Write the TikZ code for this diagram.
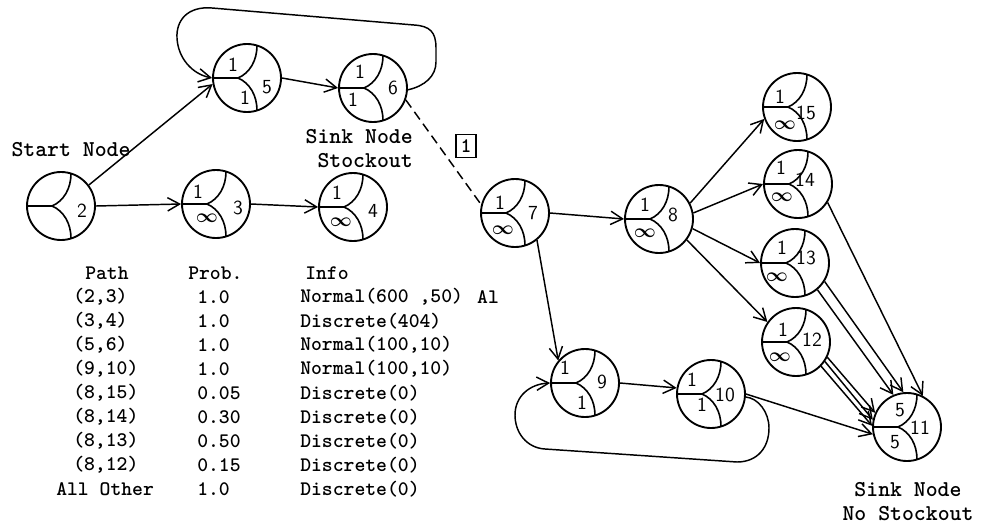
\documentclass[tikz,border=0pt]{standalone}
\usepackage{bm}
\usetikzlibrary{arrows.meta}
\tikzset{
 pn/.style={circle, draw, line width=1.4pt, minimum size=51pt, inner sep=0pt},
 inarc/.style={line width=1.2pt},
 lab/.style={font=\fontsize{15}{15}\selectfont\sffamily, inner sep=0pt},
 tt/.style={font=\fontsize{15.5}{16}\selectfont\ttfamily\bfseries, inner sep=0pt, anchor=west},
 bigtxt/.style={font=\fontsize{17}{18}\selectfont\ttfamily\bfseries, inner sep=0pt},
 conn/.style={line width=1.1pt},
 arr/.style={conn, -{Straight Barb[length=9pt,width=10pt]}},
}
\newcommand{\myinf}{$\bm{\infty}$}
\newcommand{\pnode}[8]{%
  \node[pn] (#1) at (#2) {};
  \begin{scope}[shift={(#1.center)}]
    \draw[inarc] (-34,0) -- (-9,0) .. controls (3,-5) and (10,-18) .. (10,-32.3);
    \draw[inarc] (-9,0) .. controls (3,5) and (10,18) .. (10,32.3);
    \node[lab] (#1u) at (#4) {#3};
    \node[lab] (#1l) at (#6) {#5};
    \node[lab] (#1n) at (#8) {#7};
  \end{scope}}
\begin{document}
\begin{tikzpicture}[x=0.75pt,y=-0.75pt]
\fill[white] (0,0) rectangle (989,525);
\useasboundingbox (0,0) rectangle (989,525);
% nodes
\pnode{n2}{61,206}{}{-15,-12}{}{-12,17}{2}{21,5}
\pnode{n3}{216,204}{1}{-18,-12}{\myinf}{-9,14}{3}{22,4}
\pnode{n4}{353,207}{1}{-16,-14}{\myinf}{-12,15}{4}{20,4}
\pnode{n5}{247,78}{1}{-14,-13}{1}{-2,20}{5}{20,9}
\pnode{n6}{373,88}{1}{-13,-16}{1}{-20,12}{6}{20,0}
\pnode{n7}{515,213}{1}{-15,-10}{\myinf}{-12,17}{7}{18,0}
\pnode{n8}{659,219}{1}{-14,-14}{\myinf}{-14,14}{8}{14,-4}
\pnode{n15}{797,107}{1}{-17,-10}{\myinf}{-12,18}{15}{9,6}
\pnode{n14}{798,184}{1}{-17,-16}{\myinf}{-16,13}{14}{7,-4}
\pnode{n13}{795,263}{1}{-13,-15}{\myinf}{-18,14}{13}{11,-5}
\pnode{n12}{796,342}{1}{-13,-12}{\myinf}{-16,15}{12}{16,-2}
\pnode{n11}{907,427}{5}{-7,-17}{5}{-12,15}{11}{13,1}
\pnode{n9}{585,383}{1}{-20,-15}{1}{-3,20}{9}{17,-1}
\pnode{n10}{711,394}{1}{-19,-14}{1}{-9,11}{10}{14,1}
% connectors
\draw[arr] (n2.37) -- (n5.190);
\draw[arr] (n2.east) -- (n3.west);
\draw[arr] (n3.east) -- (n4.west);
\draw[arr] (n5.east) -- (n6.west);
\draw[conn, dash pattern=on 7pt off 4pt] (n6.-20) -- (n7.166);
\draw[arr] (n7.east) -- (n8.west);
\draw[arr] (n7.-51) -- (n9.140);
\draw[arr] (n9.east) -- (n10.170);
\draw[arr] (n10.east) -- (n11.192);
\draw[arr] (n8.27) -- (n15.200);
\draw[arr] (n8.10) -- (n14.west);
\draw[arr] (n8.-16) -- (n13.west);
\draw[arr] (n8.-37) -- (n12.145);
\draw[arr] (n14.-32) -- (n11.63);
\draw[arr] (n13.-50) -- (n11.113);
\draw[arr] (n13.-32) -- (n11.96);
\draw[arr] (n12.-44) -- (n11.178);
\draw[arr] (n12.-34) -- (n11.168);
\draw[arr] (n12.-26) -- (n11.156);
% loops
\draw[arr] (n6.-3) .. controls (425,86) and (436,76) .. (436,62) -- (436,48)
  .. controls (436,32) and (430,26) .. (414,25) -- (212,8)
  .. controls (188,6) and (176,20) .. (177,38)
  .. controls (178,58) and (192,74) .. (n5.west);
\draw[arr] (n10.-5) .. controls (758,398) and (769,412) .. (769,428)
  .. controls (769,448) and (757,462) .. (737,462) -- (545,449)
  .. controls (527,448) and (515,433) .. (515,415)
  .. controls (515,396) and (530,384) .. (n9.west);
% box label
\node[draw, line width=1pt, font=\fontsize{15.5}{16}\selectfont\ttfamily\bfseries, inner sep=1.5pt, minimum width=15pt, minimum height=17pt] (box1) at (466,146) {1};
% texts
\node[bigtxt] (start) at (71,150) {Start Node};
\node[bigtxt, align=right, anchor=east] (sink1) at (413,149) {Sink Node\\Stockout};
\node[bigtxt, align=center] (sink2) at (908,502) {Sink Node\\No Stockout};
% table
\node[tt] (h1) at (85,273) {Path};
\node[tt] (h2) at (188,273) {Prob.};
\node[tt] (h3) at (305,273) {Info};
\node[tt] (a1) at (73,297) {(2,3)};
\node[tt] (a2) at (73,321) {(3,4)};
\node[tt] (a3) at (73,345) {(5,6)};
\node[tt] (a4) at (73,369) {(9,10)};
\node[tt] (a5) at (73,393) {(8,15)};
\node[tt] (a6) at (73,417) {(8,14)};
\node[tt] (a7) at (73,441) {(8,13)};
\node[tt] (a8) at (73,465) {(8,12)};
\node[tt] (a9) at (56,489) {All Other};
\node[tt] (b1) at (197,297) {1.0};
\node[tt] (b2) at (197,321) {1.0};
\node[tt] (b3) at (197,345) {1.0};
\node[tt] (b4) at (197,369) {1.0};
\node[tt] (b5) at (197,393) {0.05};
\node[tt] (b6) at (197,417) {0.30};
\node[tt] (b7) at (197,441) {0.50};
\node[tt] (b8) at (197,465) {0.15};
\node[tt] (b9) at (197,489) {1.0};
\node[tt] (c1) at (300,297) {Normal(600 ,50)};
\node[tt] (c2) at (300,321) {Discrete(404)};
\node[tt] (c3) at (300,345) {Normal(100,10)};
\node[tt] (c4) at (300,369) {Normal(100,10)};
\node[tt] (c5) at (300,393) {Discrete(0)};
\node[tt] (c6) at (300,417) {Discrete(0)};
\node[tt] (c7) at (300,441) {Discrete(0)};
\node[tt] (c8) at (300,465) {Discrete(0)};
\node[tt] (c9) at (300,489) {Discrete(0)};
\node[tt, anchor=center] (al) at (488,297) {Al};
\end{tikzpicture}
\end{document}
